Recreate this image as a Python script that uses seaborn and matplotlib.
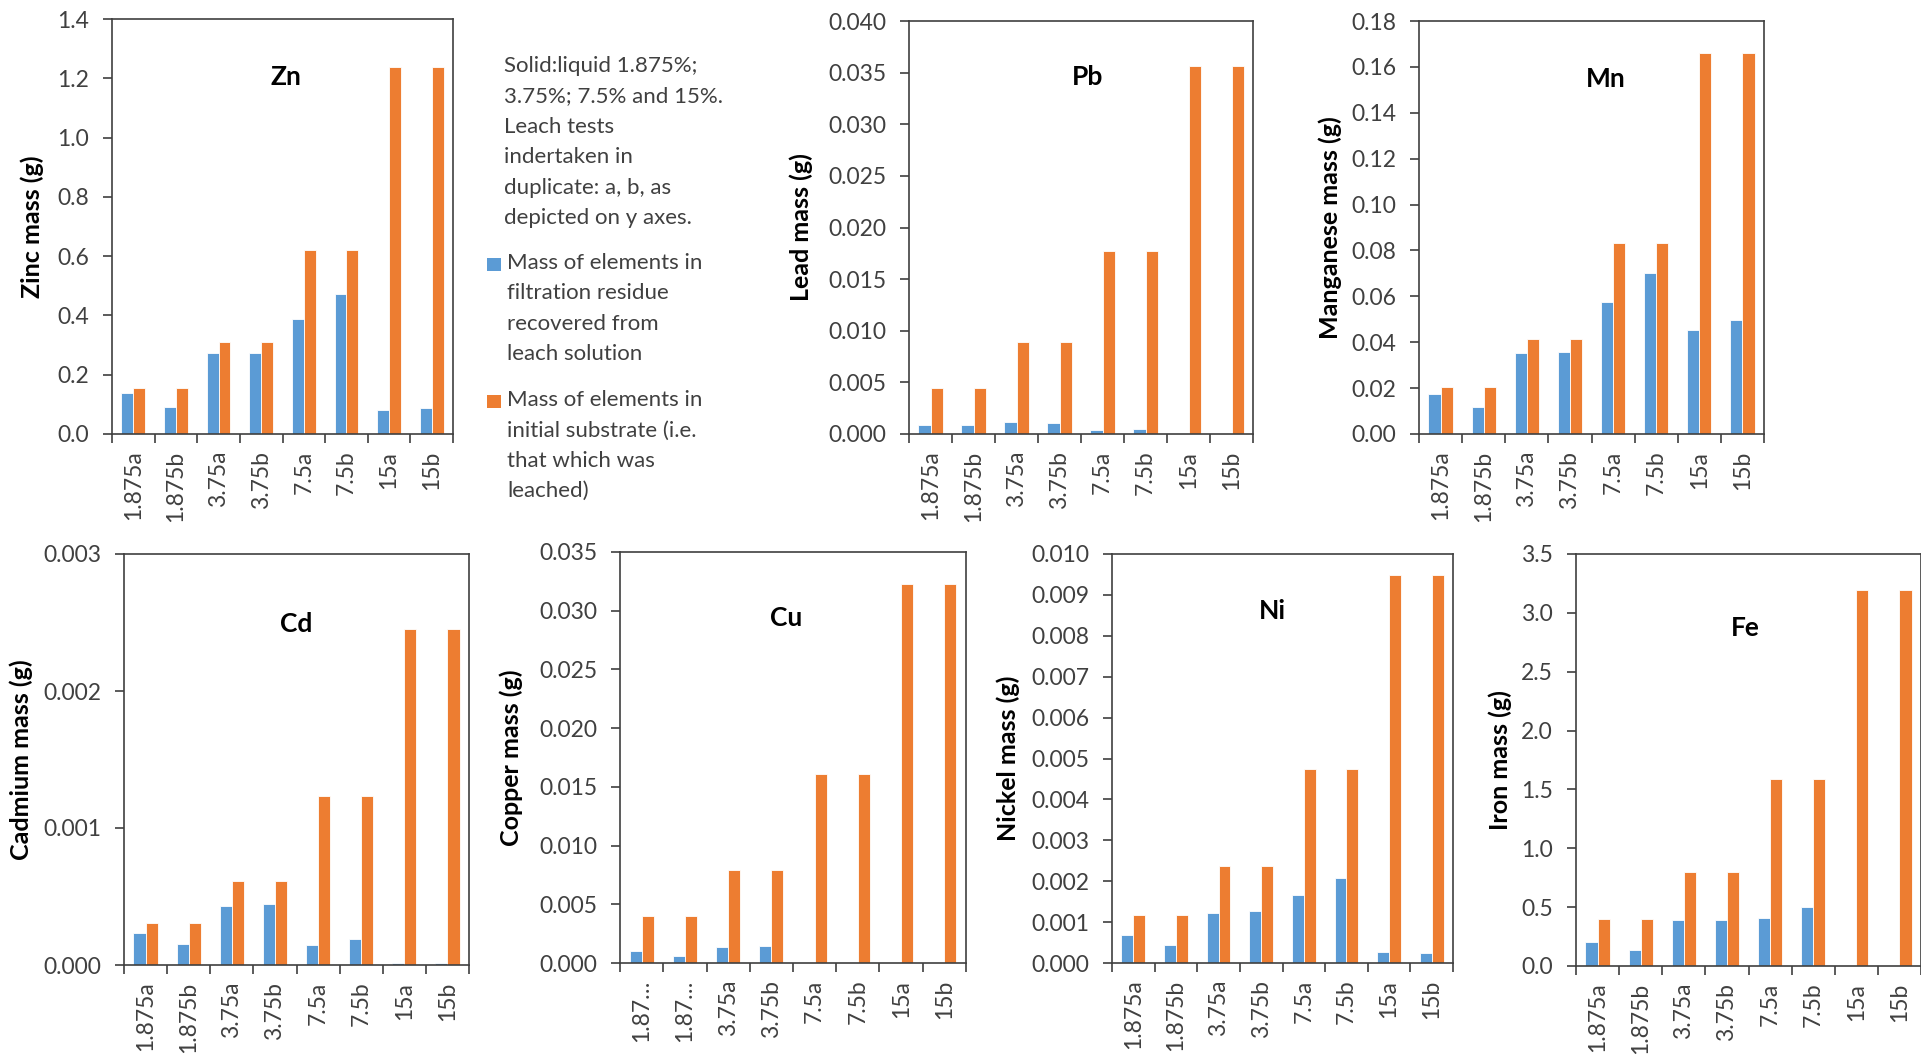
import matplotlib
matplotlib.use("Agg")
import matplotlib.pyplot as plt
import pandas as pd
import numpy as np
import seaborn as sns
from matplotlib.patches import Rectangle

sns.set_theme(style="white")
plt.rcParams['font.family'] = ['Lato', 'DejaVu Sans']

# categories (solid:liquid %, duplicate a/b)
samples = ["1.875a", "1.875b", "3.75a", "3.75b", "7.5a", "7.5b", "15a", "15b"]
cu_labels = ["1.87…", "1.87…", "3.75a", "3.75b", "7.5a", "7.5b", "15a", "15b"]

series_names = ["Mass of elements in filtration residue recovered from leach solution",
                "Mass of elements in initial substrate (i.e. that which was leached)"]

# residue (blue) and initial substrate (orange) masses, g
zn_residue = [0.138, 0.091, 0.273, 0.273, 0.388, 0.472, 0.082, 0.087]
zn_initial = [0.155, 0.155, 0.310, 0.310, 0.620, 0.620, 1.238, 1.238]
pb_residue = [0.00084, 0.00084, 0.00116, 0.00106, 0.00035, 0.00048, 0.0, 0.0]
pb_initial = [0.00445, 0.00445, 0.0089, 0.0089, 0.01776, 0.01776, 0.03562, 0.03562]
mn_residue = [0.0174, 0.0118, 0.0352, 0.0358, 0.0574, 0.0700, 0.0454, 0.0495]
mn_initial = [0.0204, 0.0204, 0.0416, 0.0416, 0.0831, 0.0831, 0.1661, 0.1661]
cd_residue = [0.000231, 0.000153, 0.000433, 0.000443, 0.000144, 0.000187, 0.000012, 0.000012]
cd_initial = [0.000309, 0.000309, 0.000616, 0.000616, 0.001234, 0.001234, 0.00245, 0.00245]
cu_residue = [0.00102, 0.00062, 0.00136, 0.00145, 0.0, 0.0, 0.0, 0.0]
cu_initial = [0.00397, 0.00397, 0.00796, 0.00796, 0.01613, 0.01613, 0.03231, 0.03231]
ni_residue = [0.000676, 0.00044, 0.00123, 0.00126, 0.00167, 0.00208, 0.00027, 0.00024]
ni_initial = [0.001165, 0.001165, 0.00237, 0.00237, 0.00475, 0.00475, 0.00949, 0.00949]
fe_residue = [0.204, 0.133, 0.388, 0.388, 0.41, 0.501, 0.0, 0.0]
fe_initial = [0.399, 0.399, 0.798, 0.798, 1.591, 1.591, 3.194, 3.194]

blue = "#5B9BD5"
orange = "#ED7D31"
W, H = 1921, 1055

# element, ylabel, residue, initial, ymax, ystep, fmt, box px (l, t, r, b), label x, title pos, xlabels
panels = [
    ("Zn", "Zinc mass (g)", zn_residue, zn_initial, 1.4, 0.2, "%.1f", (112, 19, 453, 434), -0.20, (0.51, 0.86), samples),
    ("Pb", "Lead mass (g)", pb_residue, pb_initial, 0.040, 0.005, "%.3f", (909, 21, 1253, 434), -0.28, (0.52, 0.865), samples),
    ("Mn", "Manganese mass (g)", mn_residue, mn_initial, 0.18, 0.02, "%.2f", (1419, 21, 1764, 434), -0.223, (0.54, 0.86), samples),
    ("Cd", "Cadmium mass (g)", cd_residue, cd_initial, 0.003, 0.001, "%.3f", (124, 554, 469, 965), -0.264, (0.50, 0.83), samples),
    ("Cu", "Copper mass (g)", cu_residue, cu_initial, 0.035, 0.005, "%.3f", (620, 552, 966, 963), -0.28, (0.48, 0.84), cu_labels),
    ("Ni", "Nickel mass (g)", ni_residue, ni_initial, 0.010, 0.001, "%.3f", (1112, 554, 1453, 963), -0.27, (0.47, 0.86), samples),
    ("Fe", "Iron mass (g)", fe_residue, fe_initial, 3.5, 0.5, "%.1f", (1576, 554, 1921, 966), -0.186, (0.49, 0.82), samples),
]

fig = plt.figure(figsize=(W / 100, H / 100), dpi=100)
spine_col = "#404040"
text_col = "#404040"

for el, ylab, res, ini, ymax, ystep, fmt, box, labx, tpos, xlabels in panels:
    l, t, r, b = box
    ax = fig.add_axes([l / W, 1 - b / H, (r - l) / W, (b - t) / H])
    df = pd.DataFrame({
        "sample": samples * 2,
        "mass": res + ini,
        "series": [series_names[0]] * len(samples) + [series_names[1]] * len(samples),
    })
    sns.barplot(data=df, x="sample", y="mass", hue="series", palette=[blue, orange], saturation=1,
                width=0.56, edgecolor="white", linewidth=0.6, legend=False, ax=ax)
    ax.set_xlim(-0.5, len(samples) - 0.5)
    ax.set_ylim(0, ymax)
    yt = np.arange(0, ymax + ystep / 2, ystep)
    ax.set_yticks(yt)
    ax.set_yticklabels([fmt % v for v in yt])
    ax.set_xticks(range(len(samples)))
    ax.set_xticklabels(xlabels, rotation=90, va="top", ha="center")
    ax.set_xticks(np.arange(-0.5, len(samples)), minor=True)
    ax.tick_params(axis="x", which="major", length=0, pad=12, labelsize=16.5, colors=text_col)
    ax.tick_params(axis="x", which="minor", length=6.5, width=1.2, color=spine_col, direction="out", bottom=True)
    ax.tick_params(axis="y", which="major", length=6.5, width=1.2, pad=10, labelsize=16.5,
                   color=spine_col, labelcolor=text_col, direction="out", left=True)
    ax.set_xlabel("")
    ax.set_ylabel(ylab, fontsize=18, fontweight="bold", color="black")
    ax.yaxis.set_label_coords(labx, 0.5)
    for s in ax.spines.values():
        s.set_visible(True)
        s.set_color(spine_col)
        s.set_linewidth(1.2)
    ax.text(tpos[0], tpos[1], el, transform=ax.transAxes, fontsize=19, fontweight="bold",
            ha="center", va="center", color="black")
    ax.grid(False)

# note and legend beside the Zn panel
note = "Solid:liquid 1.875%;\n3.75%; 7.5% and 15%.\nLeach tests\nindertaken in\nduplicate: a, b, as\ndepicted on y axes."
fig.text(504 / W, 1 - 56 / H, note, fontsize=16, color=text_col, va="top", ha="left", linespacing=1.65)

leg_entries = [
    (blue, "Mass of elements in\nfiltration residue\nrecovered from\nleach solution", 253),
    (orange, "Mass of elements in\ninitial substrate (i.e.\nthat which was\nleached)", 390),
]
for col, txt, ytop in leg_entries:
    fig.patches.append(Rectangle((487 / W, 1 - (ytop + 18) / H), 14 / W, 13 / H,
                                 transform=fig.transFigure, facecolor=col, edgecolor="none"))
    fig.text(507 / W, 1 - ytop / H, txt, fontsize=16, color=text_col, va="top", ha="left", linespacing=1.65)

fig.savefig("out.png", dpi=100)
